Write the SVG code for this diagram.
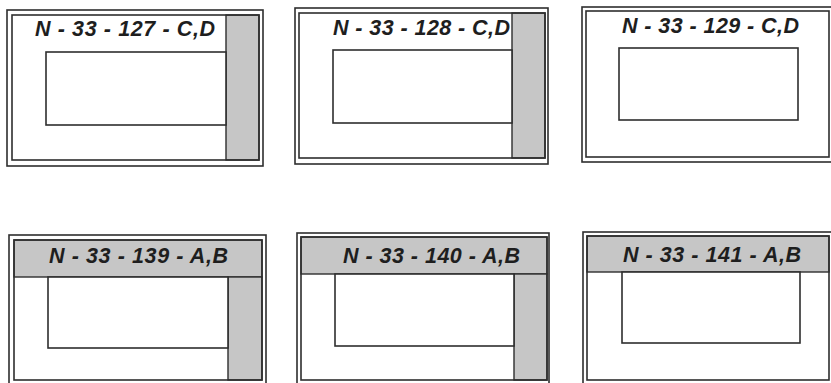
<svg xmlns="http://www.w3.org/2000/svg" width="831" height="383" viewBox="0 0 831 383">
<style>
.frame{fill:none;stroke:#2e2e2e;stroke-width:1.6}
.inner{fill:#fff;stroke:#2e2e2e;stroke-width:1.6}
.gray{fill:#c6c6c6;stroke:#2e2e2e;stroke-width:1.4}
.lbl{font-family:"Liberation Sans",Arial,sans-serif;font-weight:bold;font-style:italic;font-size:21.5px;fill:#1e1e1e}
</style>
<rect width="831" height="383" fill="#fff"/>
<g id="sheet-127">
<rect class="frame" x="7" y="10" width="256" height="156"/>
<rect class="gray" x="226" y="15" width="33" height="145"/>
<rect class="frame" x="12" y="15" width="247" height="145"/>
<rect class="inner" x="46" y="52" width="180" height="73"/>
<text class="lbl" x="35" y="36" textLength="180" lengthAdjust="spacing">N - 33 - 127 - C,D</text>
</g>
<g id="sheet-128">
<rect class="frame" x="295" y="8" width="253" height="156"/>
<rect class="gray" x="512" y="13" width="33" height="145"/>
<rect class="frame" x="299" y="13" width="246" height="145"/>
<rect class="inner" x="333" y="50" width="179" height="73"/>
<text class="lbl" x="333" y="35" textLength="177" lengthAdjust="spacing">N - 33 - 128 - C,D</text>
</g>
<g id="sheet-129">
<rect class="frame" x="582" y="7" width="260" height="155"/>
<rect class="frame" x="586" y="11" width="243" height="146"/>
<rect class="inner" x="619" y="48" width="179" height="72"/>
<text class="lbl" x="622" y="33" textLength="177" lengthAdjust="spacing">N - 33 - 129 - C,D</text>
</g>
<g id="sheet-139">
<rect class="frame" x="9" y="235" width="257" height="150"/>
<rect class="gray" x="14" y="240" width="248" height="37"/>
<rect class="gray" x="228" y="277" width="34" height="103"/>
<rect class="frame" x="14" y="240" width="248" height="140"/>
<rect class="inner" x="48" y="277" width="180" height="71"/>
<text class="lbl" x="49" y="263" textLength="179" lengthAdjust="spacing">N - 33 - 139 - A,B</text>
</g>
<g id="sheet-140">
<rect class="frame" x="297" y="233" width="252" height="151"/>
<rect class="gray" x="301" y="237" width="246" height="37"/>
<rect class="gray" x="514" y="274" width="33" height="106"/>
<rect class="frame" x="301" y="237" width="246" height="143"/>
<rect class="inner" x="335" y="274" width="179" height="72"/>
<text class="lbl" x="343" y="263" textLength="177" lengthAdjust="spacing">N - 33 - 140 - A,B</text>
</g>
<g id="sheet-141">
<rect class="frame" x="583" y="232" width="260" height="152"/>
<rect class="gray" x="587" y="236" width="242" height="36"/>
<rect class="frame" x="587" y="236" width="242" height="144"/>
<rect class="inner" x="622" y="272" width="178" height="71"/>
<text class="lbl" x="623" y="262" textLength="178" lengthAdjust="spacing">N - 33 - 141 - A,B</text>
</g>
<g id="connectors"/>
</svg>
